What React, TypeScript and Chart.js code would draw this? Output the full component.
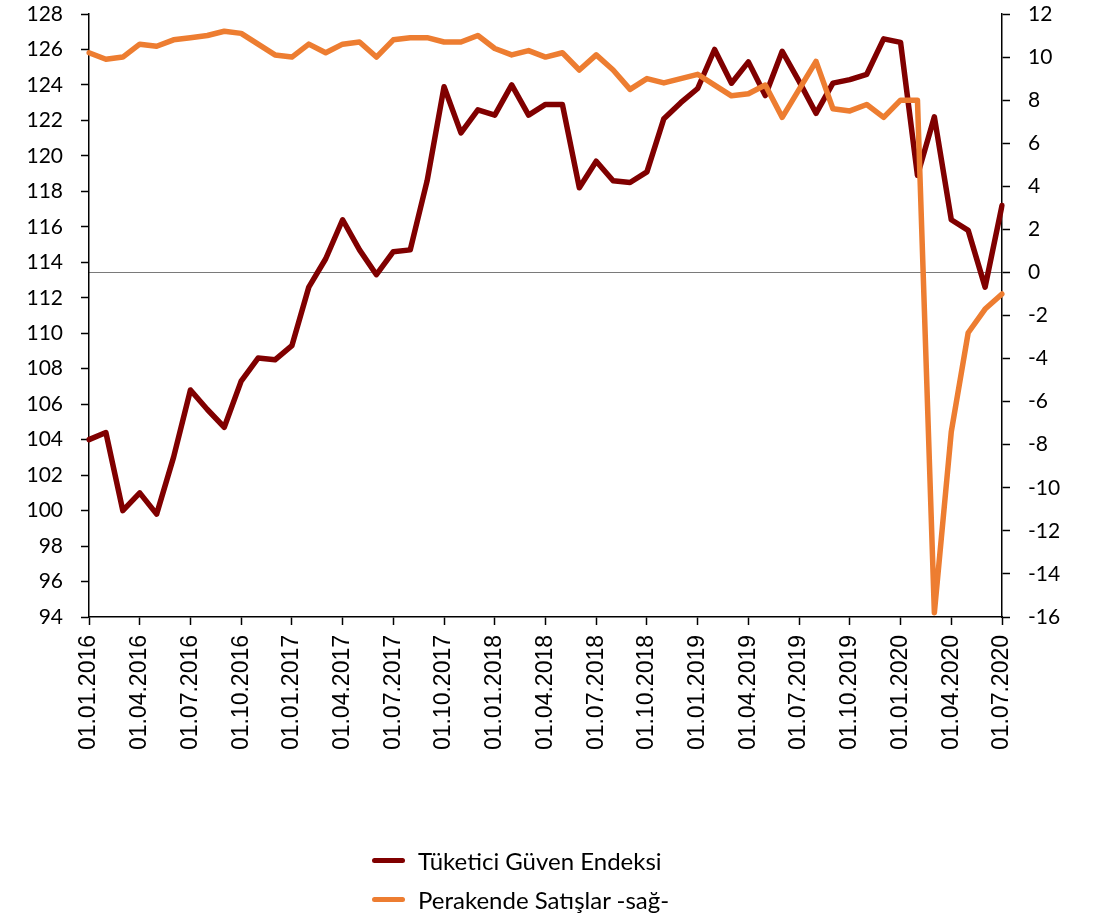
import React, { useEffect, useRef } from "react";
import { Chart, registerables } from "chart.js";

Chart.register(...registerables);

const months: string[] = [
  "01.01.2016", "01.02.2016", "01.03.2016", "01.04.2016", "01.05.2016", "01.06.2016",
  "01.07.2016", "01.08.2016", "01.09.2016", "01.10.2016", "01.11.2016", "01.12.2016",
  "01.01.2017", "01.02.2017", "01.03.2017", "01.04.2017", "01.05.2017", "01.06.2017",
  "01.07.2017", "01.08.2017", "01.09.2017", "01.10.2017", "01.11.2017", "01.12.2017",
  "01.01.2018", "01.02.2018", "01.03.2018", "01.04.2018", "01.05.2018", "01.06.2018",
  "01.07.2018", "01.08.2018", "01.09.2018", "01.10.2018", "01.11.2018", "01.12.2018",
  "01.01.2019", "01.02.2019", "01.03.2019", "01.04.2019", "01.05.2019", "01.06.2019",
  "01.07.2019", "01.08.2019", "01.09.2019", "01.10.2019", "01.11.2019", "01.12.2019",
  "01.01.2020", "01.02.2020", "01.03.2020", "01.04.2020", "01.05.2020", "01.06.2020",
  "01.07.2020",
];

const tuketiciGuven: number[] = [
  104.0, 104.4, 100.0, 101.0, 99.8, 103.0, 106.8, 105.7, 104.7, 107.3,
  108.6, 108.5, 109.3, 112.6, 114.2, 116.4, 114.7, 113.3, 114.6, 114.7,
  118.6, 123.9, 121.3, 122.6, 122.3, 124.0, 122.3, 122.9, 122.9, 118.2,
  119.7, 118.6, 118.5, 119.1, 122.1, 123.0, 123.8, 126.0, 124.1, 125.3,
  123.4, 125.9, 124.2, 122.4, 124.1, 124.3, 124.6, 126.6, 126.4, 118.9,
  122.2, 116.4, 115.8, 112.6, 117.2,
];

const perakendeSatislar: number[] = [
  10.2, 9.9, 10.0, 10.6, 10.5, 10.8, 10.9, 11.0, 11.2, 11.1,
  10.6, 10.1, 10.0, 10.6, 10.2, 10.6, 10.7, 10.0, 10.8, 10.9,
  10.9, 10.7, 10.7, 11.0, 10.4, 10.1, 10.3, 10.0, 10.2, 9.4,
  10.1, 9.4, 8.5, 9.0, 8.8, 9.0, 9.2, 8.7, 8.2, 8.3,
  8.7, 7.2, 8.5, 9.8, 7.6, 7.5, 7.8, 7.2, 8.0, 8.0,
  -15.8, -7.4, -2.8, -1.7, -1.0,
];

const seriesNames = ["Tüketici Güven Endeksi", "Perakende Satışlar -sağ-"];
const seriesColors = ["#800000", "#ED7D31"];
const labelStep = 3;

export default function App() {
  const canvasRef = useRef<HTMLCanvasElement | null>(null);

  useEffect(() => {
    const canvas = canvasRef.current;
    if (!canvas) return;
    const fitVertical = (width: number) => (s: any) => {
      s.width = width;
      s.paddingTop = 14;
      s.paddingBottom = 0;
    };
    const chart = new Chart(canvas, {
      type: "line",
      data: {
        labels: months,
        datasets: [
          {
            label: seriesNames[0],
            data: tuketiciGuven,
            borderColor: seriesColors[0],
            backgroundColor: seriesColors[0],
            borderWidth: 5.5,
            pointRadius: 0,
            tension: 0,
            borderJoinStyle: "round",
            borderCapStyle: "round",
            yAxisID: "y",
            order: 1,
          },
          {
            label: seriesNames[1],
            data: perakendeSatislar,
            borderColor: seriesColors[1],
            backgroundColor: seriesColors[1],
            borderWidth: 5.5,
            pointRadius: 0,
            tension: 0,
            borderJoinStyle: "round",
            borderCapStyle: "round",
            yAxisID: "y2",
            order: 0,
          },
        ],
      },
      options: {
        responsive: false,
        animation: false,
        layout: { padding: { top: 0, left: 0, right: 0, bottom: 0 } },
        plugins: {
          legend: { display: false },
          tooltip: { enabled: false },
        },
        scales: {
          x: {
            type: "category",
            offset: false,
            afterFit: (s: any) => {
              s.height = 296;
              s.paddingLeft = 0;
              s.paddingRight = 0;
            },
            border: { display: true, color: "#000", width: 1.5 },
            grid: {
              display: true,
              drawOnChartArea: false,
              drawTicks: true,
              tickLength: 8,
              tickWidth: 1.5,
              tickColor: (ctx: any) => (ctx.index % labelStep === 0 ? "#000" : "transparent"),
            },
            ticks: {
              autoSkip: false,
              maxRotation: 90,
              minRotation: 90,
              padding: 10,
              color: "#000",
              font: { family: "'Liberation Sans', Arial, sans-serif", size: 23 },
              callback: (_v: any, index: number) => (index % labelStep === 0 ? months[index] : ""),
            },
          },
          y: {
            position: "left",
            min: 94,
            max: 128,
            afterFit: fitVertical(89),
            border: { display: true, color: "#000", width: 1.5 },
            grid: {
              display: true,
              drawOnChartArea: false,
              drawTicks: true,
              tickLength: 8,
              tickWidth: 1.5,
              tickColor: "#000",
            },
            ticks: {
              stepSize: 2,
              padding: 18,
              color: "#000",
              font: { family: "Lato, 'Noto Sans', sans-serif", size: 21 },
            },
          },
          y2: {
            position: "right",
            min: -16,
            max: 12,
            afterFit: fitVertical(92),
            border: { display: true, color: "#000", width: 1.5 },
            grid: {
              display: true,
              drawOnChartArea: true,
              drawTicks: true,
              tickLength: 8,
              tickWidth: 1.5,
              tickColor: "#000",
              lineWidth: 1,
              color: (ctx: any) => (ctx.tick && ctx.tick.value === 0 ? "#7a7a7a" : "transparent"),
            },
            ticks: {
              stepSize: 2,
              padding: 18,
              color: "#000",
              font: { family: "Lato, 'Noto Sans', sans-serif", size: 21 },
            },
          },
        },
      },
    });
    return () => chart.destroy();
  }, []);

  const legendRowTops = [860, 899];

  return (
    <div style={{ position: "absolute", left: 0, top: 0, width: 1094, height: 913, background: "#fff" }}>
      <canvas ref={canvasRef} width={1094} height={913} style={{ position: "absolute", left: 0, top: 0 }} />
      {seriesNames.map((name, i) => (
        <div
          key={name}
          style={{
            position: "absolute",
            left: 372,
            top: legendRowTops[i] - 16,
            height: 32,
            display: "flex",
            alignItems: "center",
            fontFamily: "Lato, 'Noto Sans', sans-serif",
            fontSize: 24,
            color: "#000",
            whiteSpace: "nowrap",
          }}
        >
          <span
            style={{
              display: "inline-block",
              width: 33,
              height: 5,
              borderRadius: 3,
              background: seriesColors[i],
              marginRight: 13,
            }}
          />
          <span>{name}</span>
        </div>
      ))}
    </div>
  );
}
